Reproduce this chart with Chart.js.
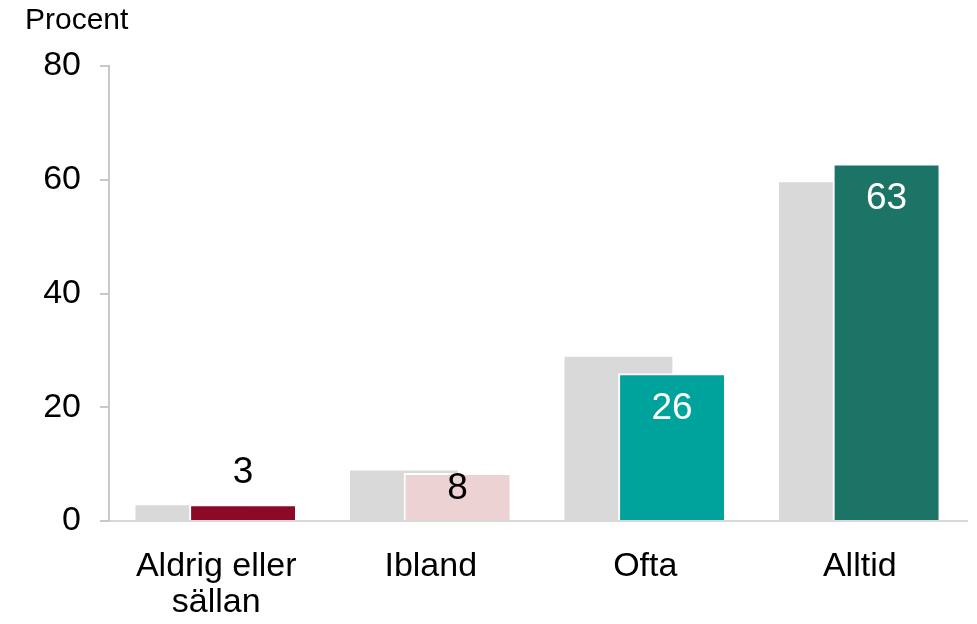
<!DOCTYPE html>
<html>
<head>
<meta charset="utf-8">
<script src="https://cdn.jsdelivr.net/npm/chart.js@4/dist/chart.umd.min.js"></script>
<style>
  body { margin: 0; background: #fff; }
  #wrap { width: 977px; height: 624px; position: relative; }
</style>
</head>
<body>
<div id="wrap"><canvas id="chart"></canvas></div>
<script>
const categories = [['Aldrig eller', 'sällan'], 'Ibland', 'Ofta', 'Alltid'];
const compareValues = [2.7, 8.8, 28.8, 59.5];   // grey bars
const mainValues = [2.9, 8.4, 25.9, 62.8];      // coloured bars
const yTicks = [0, 20, 40, 60, 80];

const mainColors = ['#8c0a27', '#ecd2d3', '#00a39b', '#1b7466'];
const labelColors = ['#000', '#000', '#fff', '#fff'];
const FONT = "'Liberation Sans', Arial, sans-serif";

// grouped bars overlap; draw left-to-right so the coloured bar sits on top,
// then write the value labels
const overlapDraw = {
  id: 'overlapDraw',
  beforeDatasetsDraw(chart) {
    chart.getSortedVisibleDatasetMetas().forEach(m => m.controller.draw());
    const ctx = chart.ctx;
    const meta = chart.getDatasetMeta(1);
    ctx.save();
    ctx.font = `37px ${FONT}`;
    ctx.textAlign = 'center';
    ctx.textBaseline = 'middle';
    meta.data.forEach((bar, i) => {
      const h = bar.base - bar.y;
      const y = h < 30 ? bar.y - 32 : bar.y + Math.min(35, h / 3);
      ctx.fillStyle = labelColors[i];
      ctx.fillText(String(Math.round(mainValues[i])), bar.x, y);
    });
    ctx.restore();
    return false;
  }
};

new Chart(document.getElementById('chart'), {
  type: 'bar',
  data: {
    labels: categories,
    datasets: [
      {
        label: 'Jämförelse',
        data: compareValues,
        backgroundColor: '#d9d9d9',
        borderWidth: 0
      },
      {
        label: 'Andel',
        data: mainValues,
        backgroundColor: mainColors,
        borderColor: '#ffffff',
        borderWidth: 2
      }
    ]
  },
  plugins: [overlapDraw],
  options: {
    responsive: true,
    maintainAspectRatio: false,
    animation: false,
    categoryPercentage: 0.5,
    barPercentage: 2,
    layout: { padding: { left: 25, right: 10, top: 0, bottom: 0 } },
    plugins: {
      legend: { display: false },
      tooltip: { enabled: false },
      title: {
        display: true,
        text: 'Procent',
        align: 'start',
        color: '#000',
        font: { family: FONT, size: 30, weight: 'normal', lineHeight: 1.2 },
        padding: { top: 3, bottom: 27 }
      }
    },
    scales: {
      x: {
        grid: { display: false, drawTicks: false },
        border: { display: true, color: '#d9d9d9', width: 2 },
        ticks: {
          color: '#000',
          padding: 28,
          maxRotation: 0,
          autoSkip: false,
          font: { family: FONT, size: 34, lineHeight: 1.06 }
        },
        afterFit: scale => { scale.height = 103; }
      },
      y: {
        min: 0,
        max: 80,
        afterBuildTicks: scale => { scale.ticks = yTicks.map(v => ({ value: v })); },
        grid: { drawOnChartArea: false, drawTicks: true, tickLength: 9, color: '#c8c8c8', lineWidth: 2 },
        border: { display: true, color: '#c8c8c8', width: 2 },
        ticks: {
          color: '#000',
          padding: 19,
          font: { family: FONT, size: 34 }
        },
        afterFit: scale => { scale.width = 84; }
      }
    }
  }
});
</script>
</body>
</html>
